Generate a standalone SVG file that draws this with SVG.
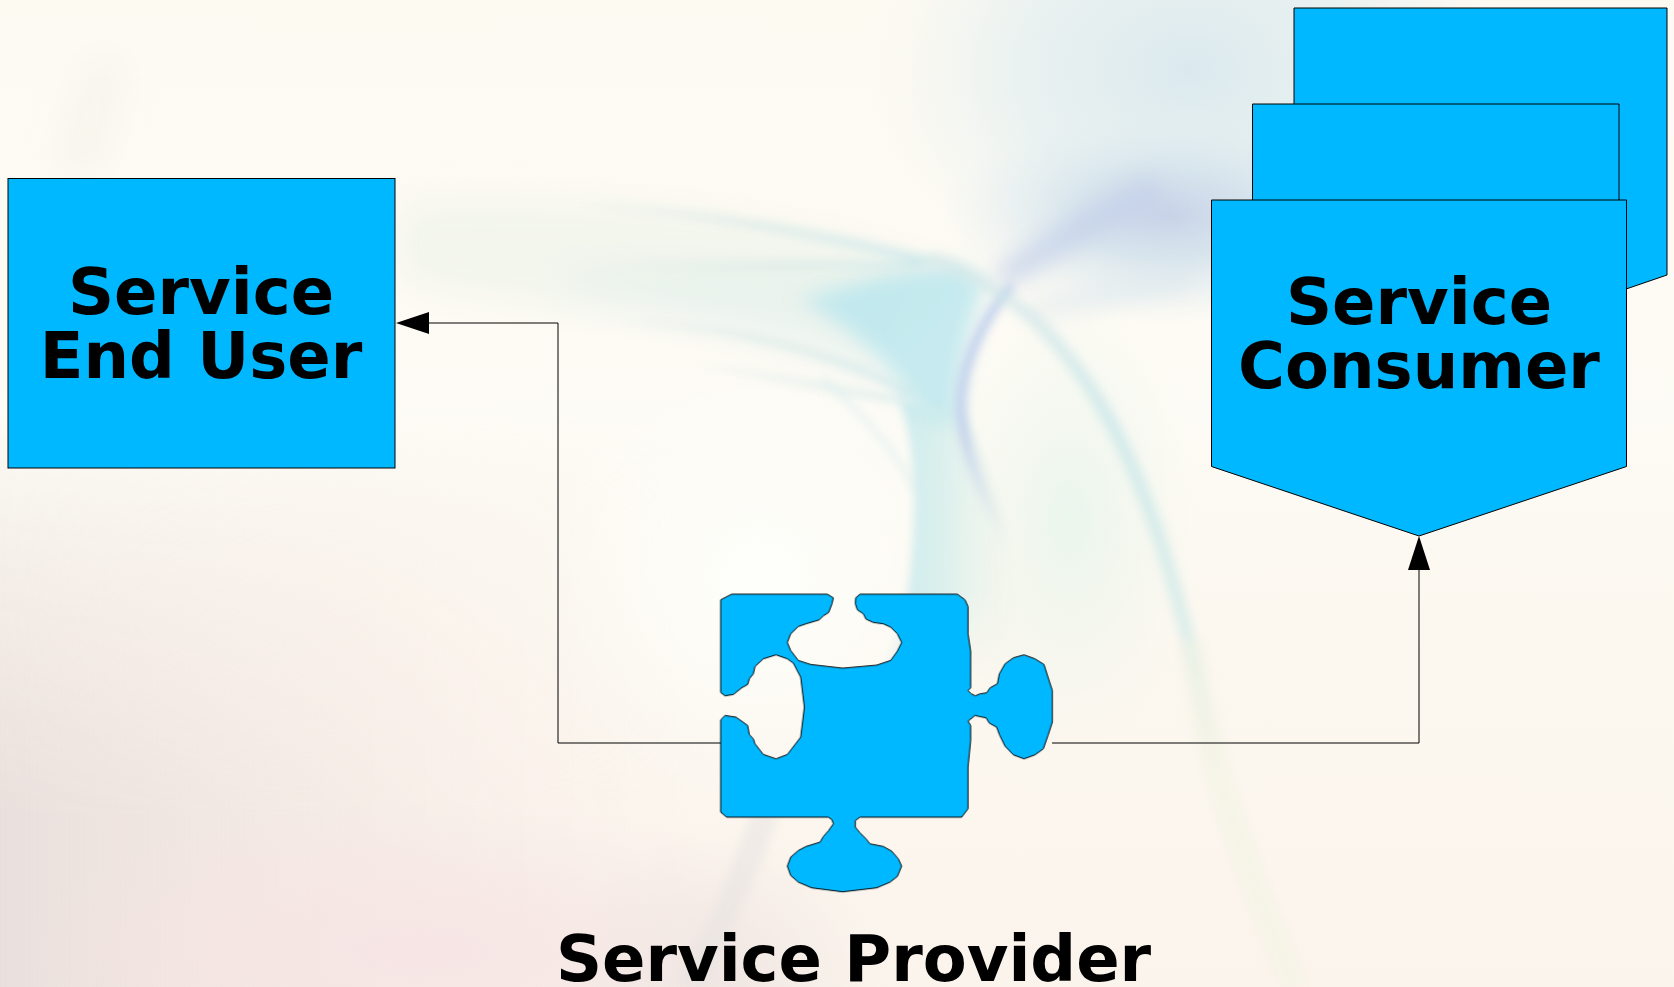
<svg xmlns="http://www.w3.org/2000/svg" width="1674" height="987" viewBox="0 0 1674 987">
<style>
.shape{fill:#00b8ff;stroke:#000;stroke-width:1}
.conn{fill:none;stroke:#000;stroke-width:1}
.lbl{font-family:"DejaVu Sans",sans-serif;font-weight:700;font-size:64px;fill:#000;text-anchor:middle}
.head{fill:#000}
</style>
<defs>
<linearGradient id="bg" x1="0" y1="0" x2="0" y2="1">
<stop offset="0" stop-color="#fdfaf2"/><stop offset=".42" stop-color="#fdfbf5"/><stop offset=".62" stop-color="#fcf8f0"/><stop offset="1" stop-color="#fbf4ec"/>
</linearGradient>
<linearGradient id="left" x1="0" y1="0" x2="1" y2="0">
<stop offset="0" stop-color="#e9dfdc"/><stop offset=".5" stop-color="#f3e7e2" stop-opacity=".7"/><stop offset="1" stop-color="#f8eee8" stop-opacity="0"/>
</linearGradient>
<linearGradient id="leftMask" x1="0" y1="0" x2="0" y2="1">
<stop offset="0" stop-color="#fff" stop-opacity="0"/><stop offset=".3" stop-color="#fff" stop-opacity=".45"/><stop offset=".7" stop-color="#fff"/><stop offset="1" stop-color="#fff"/>
</linearGradient>
<mask id="lm"><rect x="0" y="420" width="700" height="567" fill="url(#leftMask)"/></mask>
<radialGradient id="gp"><stop offset="0" stop-color="#f6e4e4" stop-opacity=".95"/><stop offset="1" stop-color="#f6e4e4" stop-opacity="0"/></radialGradient>
<radialGradient id="gl"><stop offset="0" stop-color="#e4dcdb" stop-opacity=".8"/><stop offset="1" stop-color="#e4dcdb" stop-opacity="0"/></radialGradient>
<radialGradient id="gb"><stop offset="0" stop-color="#c9d3e8"/><stop offset=".4" stop-color="#d3e2ec" stop-opacity=".85"/><stop offset="1" stop-color="#e6f0f2" stop-opacity="0"/></radialGradient>
<radialGradient id="gt"><stop offset="0" stop-color="#dbe9ee"/><stop offset=".55" stop-color="#e4eff0" stop-opacity=".75"/><stop offset="1" stop-color="#edf3f0" stop-opacity="0"/></radialGradient>
<radialGradient id="gw"><stop offset="0" stop-color="#fefffb"/><stop offset="1" stop-color="#fefffb" stop-opacity="0"/></radialGradient>
<radialGradient id="gm"><stop offset="0" stop-color="#e8f5ec" stop-opacity=".9"/><stop offset="1" stop-color="#eef6ec" stop-opacity="0"/></radialGradient>
<linearGradient id="lav" x1="0" y1="0" x2="0" y2="1">
<stop offset="0" stop-color="#b2c8ec" stop-opacity=".8"/><stop offset=".6" stop-color="#b9c6ea" stop-opacity=".75"/><stop offset="1" stop-color="#c4d2ea" stop-opacity="0"/>
</linearGradient>
<linearGradient id="arc" x1="0" y1="0" x2="0" y2="1">
<stop offset="0" stop-color="#d2e6e6" stop-opacity=".6"/><stop offset=".3" stop-color="#bfe2e8" stop-opacity=".6"/><stop offset=".75" stop-color="#c8e8e6" stop-opacity=".6"/><stop offset="1" stop-color="#d8ecdf" stop-opacity="0"/>
</linearGradient>
<linearGradient id="fL" x1="0" y1="0" x2="1" y2="0">
<stop offset="0" stop-color="#dbe9e6" stop-opacity="0"/><stop offset=".5" stop-color="#d6e8e6" stop-opacity=".65"/><stop offset="1" stop-color="#c6e6ea" stop-opacity=".8"/>
</linearGradient>
<linearGradient id="tv" x1="0" y1="0" x2="1" y2="0">
<stop offset="0" stop-color="#bfe8ee" stop-opacity=".9"/><stop offset=".45" stop-color="#cdebea" stop-opacity=".7"/><stop offset="1" stop-color="#e4f1e6" stop-opacity="0"/>
</linearGradient>
<linearGradient id="tb" x1="0" y1="0" x2="0" y2="1">
<stop offset="0" stop-color="#fff"/><stop offset=".7" stop-color="#fff"/><stop offset="1" stop-color="#fff" stop-opacity="0"/>
</linearGradient>
<mask id="tm"><rect x="850" y="380" width="220" height="300" fill="url(#tb)"/></mask>
<filter id="b3" x="-30%" y="-30%" width="160%" height="160%"><feGaussianBlur stdDeviation="5"/></filter>
<filter id="b4" x="-30%" y="-30%" width="160%" height="160%"><feGaussianBlur stdDeviation="4"/></filter>
<filter id="b8" x="-30%" y="-30%" width="160%" height="160%"><feGaussianBlur stdDeviation="10"/></filter>
<filter id="b16" x="-30%" y="-30%" width="160%" height="160%"><feGaussianBlur stdDeviation="18"/></filter>
</defs>
<g id="background">
<rect width="1674" height="987" fill="url(#bg)"/>
<rect x="0" y="420" width="700" height="567" fill="url(#left)" mask="url(#lm)"/>
<ellipse cx="430" cy="950" rx="420" ry="150" fill="url(#gp)"/>
<ellipse cx="720" cy="1000" rx="170" ry="180" fill="url(#gl)" opacity=".6"/>
<ellipse cx="1190" cy="70" rx="320" ry="240" fill="url(#gt)"/>
<ellipse cx="1170" cy="215" rx="230" ry="110" fill="url(#gb)"/>
<ellipse cx="760" cy="580" rx="230" ry="220" fill="url(#gw)"/>
<ellipse cx="1070" cy="520" rx="130" ry="230" fill="url(#gm)"/>
<g filter="url(#b16)">
<path d="M400 205C560 195 800 215 950 275L905 330C760 300 560 320 400 280Z" fill="#eef3ea" opacity=".7"/>
<path d="M560 295C680 320 800 340 880 380L900 270C800 255 680 265 560 270Z" fill="#e2f0ec" opacity=".6"/>
<path d="M58 170L95 60L120 60L95 170Z" fill="#f1efe6" opacity=".6"/>
</g>
<g filter="url(#b8)">
<path d="M985 285C968 330 955 380 960 425L925 425C905 385 870 335 800 300C850 285 910 265 960 265Z" fill="#b8e6ee" opacity=".8"/>
<path d="M1015 285C1070 250 1110 230 1170 205L1150 175C1085 205 1030 240 990 275Z" fill="#c4d0ea" opacity=".7"/>
<path d="M1025 300L1190 265L1190 290L1040 320Z" fill="#dbe8ee" opacity=".5"/>
</g>
<g mask="url(#tm)"><path d="M900 400C916 450 920 510 905 620L880 680L1020 680C1025 600 1005 480 960 410Z" fill="url(#tv)" filter="url(#b4)"/></g>
<g fill="none" filter="url(#b3)" stroke-linecap="butt">
<path d="M1012 285C985 315 958 370 961 412C964 445 975 480 1005 540" stroke="url(#lav)" stroke-width="10"/>
<path d="M930 258C985 280 1005 295 1035 320C1095 380 1130 450 1160 540C1185 620 1200 680 1215 780" stroke="url(#arc)" stroke-width="14"/>
<path d="M570 205C700 212 810 232 930 262" stroke="url(#fL)" stroke-width="9"/>
<path d="M600 262C700 272 820 262 920 266" stroke="url(#fL)" stroke-width="6"/>
<path d="M610 322C720 322 830 350 915 395" stroke="url(#fL)" stroke-width="7"/>
<path d="M680 362C780 375 850 395 905 400" stroke="url(#fL)" stroke-width="5"/>
<path d="M822 378C870 420 905 465 915 490" stroke="#cdeaec" stroke-width="4" opacity=".6"/>
<path d="M1190 640C1200 700 1215 800 1295 987" stroke="#f3f2e4" stroke-width="26" opacity=".55"/>
<path d="M770 800C750 860 720 930 690 987" stroke="#e8e3e2" stroke-width="26" opacity=".55"/>
</g>
</g>
<g id="connectors">
<polyline class="conn" points="721,743 558,743 558,323 429,323"/>
<polygon class="head" points="396,323 429,312 429,334"/>
<polyline class="conn" points="1052,743 1419,743 1419,570"/>
<polygon class="head" points="1419,536 1408,570 1430,570"/>
</g>
<g id="service-end-user">
<rect class="shape" x="8" y="178.500" width="387" height="289.500"/>
<text class="lbl"><tspan x="201" y="314">Service</tspan><tspan x="201" y="378">End User</tspan></text>
</g>
<g id="service-consumer">
<polygon class="shape" points="1294,8 1667,8 1667,275 1480,339 1294,275"/>
<polygon class="shape" points="1252.500,104 1619,104 1619,370 1436,434 1252.500,370"/>
<polygon class="shape" points="1211.500,200 1626.500,200 1626.500,466.500 1419,536 1211.500,466.500"/>
<text class="lbl"><tspan x="1419" y="324">Service</tspan><tspan x="1419" y="388">Consumer</tspan></text>
</g>
<g id="service-provider">
<polygon class="shape" transform="translate(700 580.500) scale(.33333)" style="stroke-width:3" points="62,58 95,41 382,41 400,52 396,70 386,96 370,106 358,118 318,130 295,138 272,160 262,186 272,210 295,240 332,252 428,263 530,254 572,240 592,212 605,186 592,160 572,140 550,130 520,126 498,116 490,100 472,88 466,70 467,52 480,41 772,41 795,58 804,78 804,160 812,212 812,322 804,330 814,340 826,346 840,340 860,337 870,322 892,310 898,280 915,250 940,232 972,223 1005,235 1032,252 1044,290 1057,330 1057,425 1044,465 1030,505 1005,523 972,535 940,523 915,497 898,462 890,440 868,428 858,412 838,408 825,405 804,422 812,435 812,480 804,560 804,685 785,710 480,710 466,720 466,740 480,757 498,775 510,790 550,798 575,812 595,835 605,857 592,888 570,905 530,922 428,934 335,922 295,905 272,885 262,857 272,830 295,810 318,798 360,785 370,768 386,750 400,730 396,718 385,710 80,710 62,695 62,418 75,405 108,410 125,422 143,435 148,462 160,475 165,490 190,522 228,535 262,522 302,470 313,380 302,290 280,248 262,235 228,223 190,235 165,258 160,280 148,295 143,312 125,322 100,342 75,346 62,336"/>
<text class="lbl" x="853.500" y="981">Service Provider</text>
</g>
</svg>
